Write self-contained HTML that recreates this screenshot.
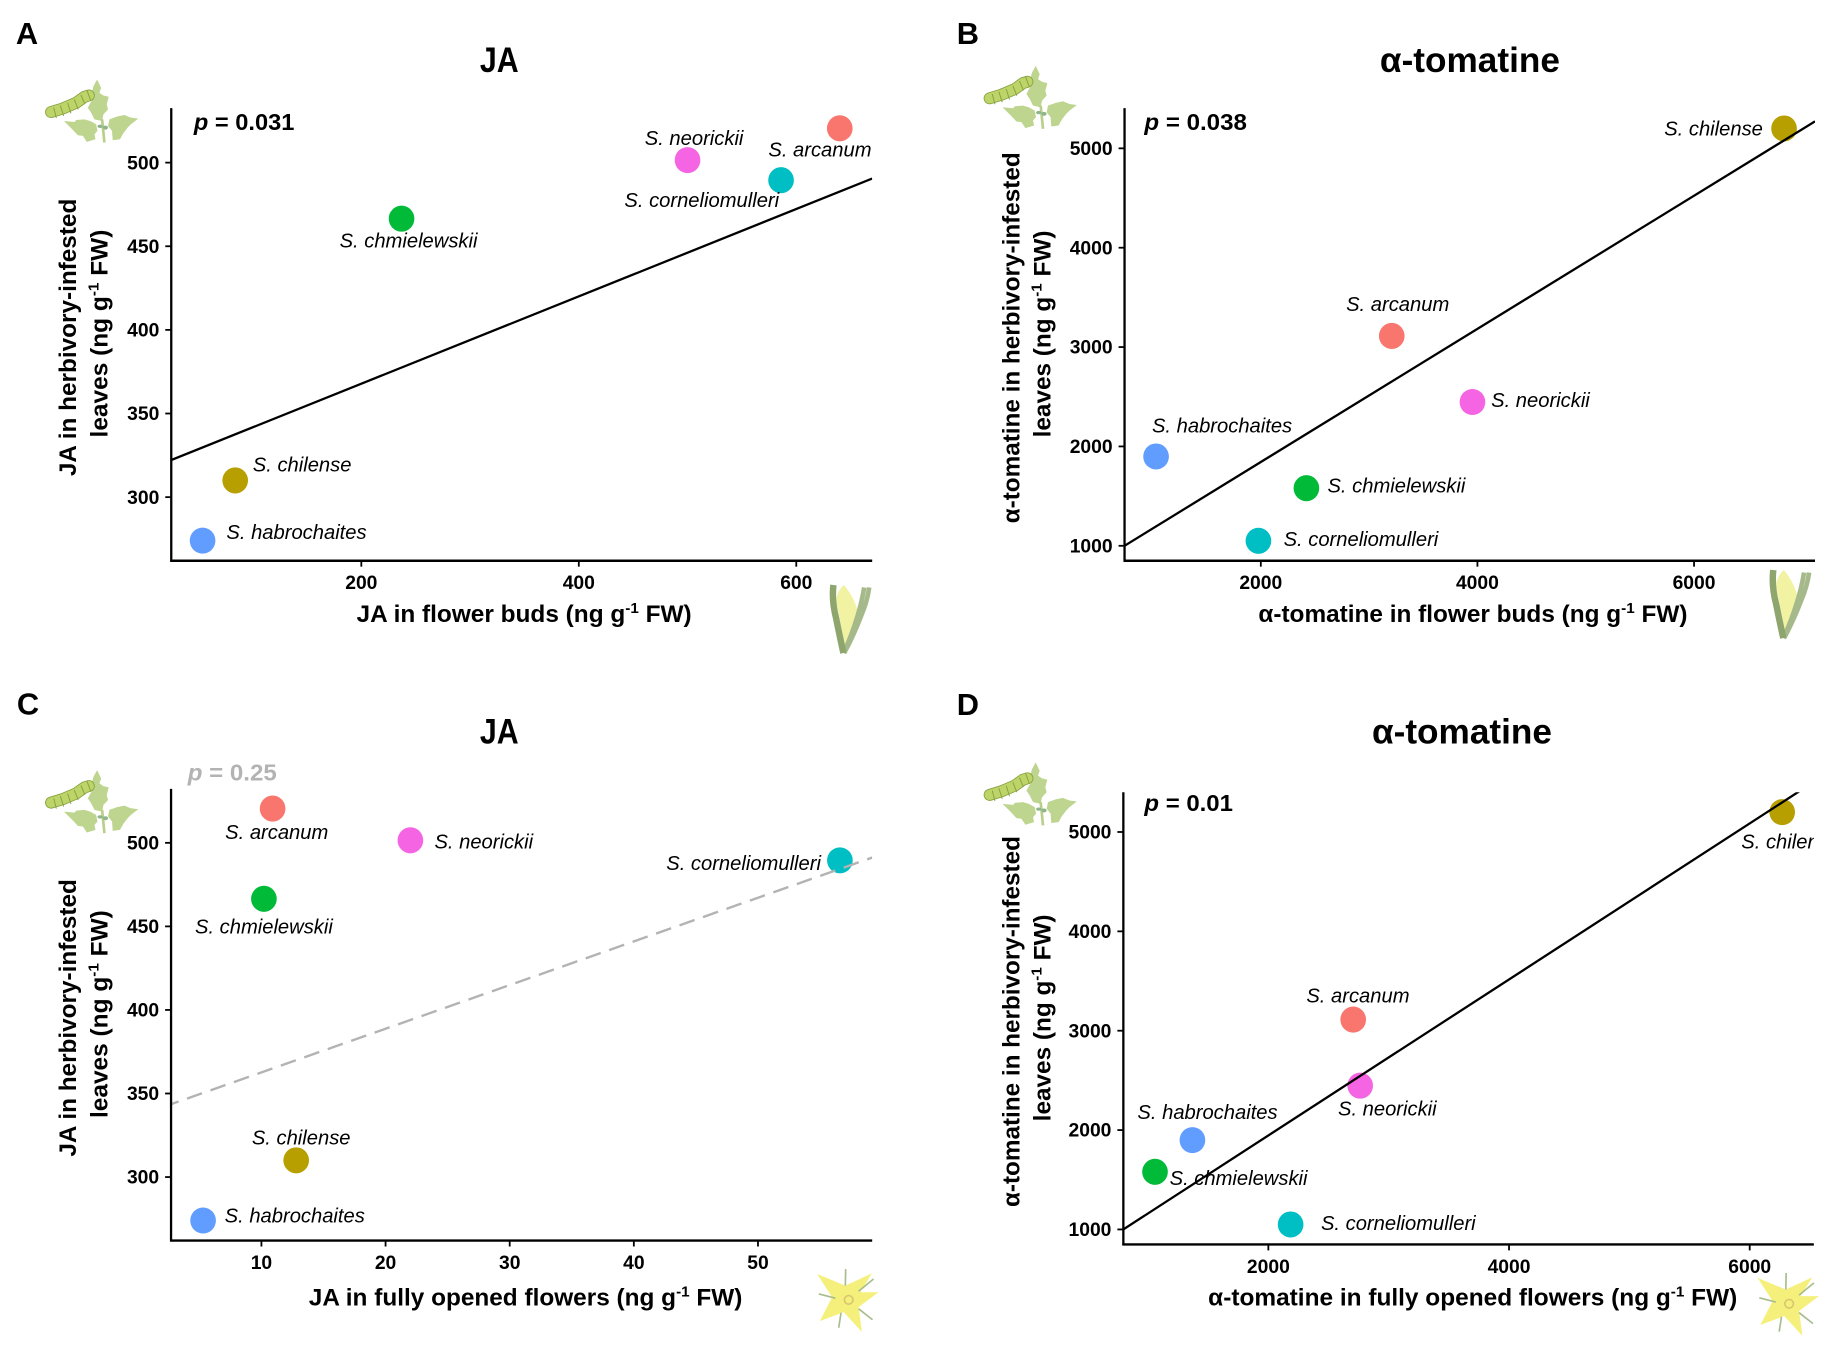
<!DOCTYPE html>
<html lang="en">
<head>
<meta charset="utf-8">
<title>JA and α-tomatine correlations</title>
<style>
html,body{margin:0;padding:0;background:#fff;}
svg{display:block;}
text{font-family:"Liberation Sans",sans-serif;fill:#000;}
.letter{font-size:31px;font-weight:700;}
.title{font-size:35px;font-weight:700;text-anchor:middle;}
.xtitle,.ytitle{font-size:24px;font-weight:700;text-anchor:middle;}
.pval{font-size:23px;font-weight:700;}
.pval .pi{font-style:italic;}
.tick{font-size:19.4px;font-weight:700;}
.species{font-size:20.3px;font-style:italic;}
</style>
</head>
<body>
<svg id="figure" xmlns="http://www.w3.org/2000/svg" width="1833" height="1346" viewBox="0 0 1833 1346">
<defs>
  <g id="leaf-icon">
    <g fill="#bdd58e">
      <path d="M203 60L215 85 210 100 222 108 238 112 232 135 236 150 222 165 218 185 195 180 185 160 175 145 184 128 195 115 188 95 192 80Z"/>
      <path d="M103 185L135 188 140 182 165 180 182 185 200 195 204 215 195 225 198 240 172 248 160 230 145 228 130 212 118 200Z"/>
      <path d="M327 178L305 175 285 167 262 172 240 180 236 200 248 215 250 243 272 240 282 222 295 205 305 195Z"/>
    </g>
    <path d="M218 180L225 250" stroke="#b9cf8a" stroke-width="8" fill="none"/>
    <ellipse cx="212" cy="201" rx="8" ry="5" fill="#8fb58a"/>
    <ellipse cx="228" cy="205" rx="8" ry="6" fill="#8fb58a"/>
    <path d="M64 158L100 147 140 130 165 112 178 108" stroke="#86a03e" stroke-width="36" stroke-linecap="round" fill="none"/>
    <path d="M64 158L100 147 140 130 165 112 178 108" stroke="#bdd468" stroke-width="31" stroke-linecap="round" fill="none"/>
    <path d="M72 145L80 176M92 138L102 170M114 130L124 162M134 120L146 150M154 106L166 134M172 92L184 124" stroke="#8aa245" stroke-width="3" fill="none"/>
  </g>
  <g id="bud-icon">
    <path d="M130 45Q165 90 168 125L132 215 108 90Q110 60 130 45Z" fill="#f1f3a2"/>
    <path d="M186 52Q180 90 168 130Q150 190 128 235" stroke="#a5b98a" stroke-width="13" fill="none"/>
    <path d="M200 52Q195 90 178 130Q155 190 130 235" stroke="#a5b98a" stroke-width="13" fill="none"/>
    <path d="M100 45Q95 90 108 140Q118 190 128 235" stroke="#8fa56e" stroke-width="18" fill="none"/>
  </g>
  <g id="flower-icon">
    <path d="M80 70L165 105 245 68 210 125 265 125 205 170 215 245 160 185 88 212 125 140Z" fill="#f5f07c"/>
    <path d="M166 55L165 105M250 85L205 122M85 130L135 143M152 187L145 232M205 175L247 208" stroke="#a8bd8c" stroke-width="5" fill="none"/>
    <circle cx="175" cy="148" r="13" fill="none" stroke="#d9c76f" stroke-width="5"/>
  </g>
</defs>

<g transform="scale(.9945)">
  <text class="letter" x="16" y="44">A</text>
  <text class="title" x="502" y="72.5" textLength="39" lengthAdjust="spacingAndGlyphs">JA</text>
  <text class="pval" x="195" y="130.7" textLength="101" lengthAdjust="spacingAndGlyphs"><tspan class="pi">p</tspan> = 0.031</text>
  <text class="xtitle" x="527" y="625.5" textLength="337" lengthAdjust="spacingAndGlyphs">JA in flower buds (ng g<tspan font-size="15" dy="-9">-1</tspan><tspan dy="9"> FW)</tspan></text>
  <g>
    <text class="ytitle" transform="translate(76.4 339.3) rotate(-90)" textLength="279" lengthAdjust="spacingAndGlyphs">JA in herbivory-infested</text>
    <text class="ytitle" transform="translate(107.9 335.4) rotate(-90)" textLength="209" lengthAdjust="spacingAndGlyphs">leaves (ng g<tspan font-size="15" dy="-9">-1</tspan><tspan dy="9"> FW)</tspan></text>
  </g>
</g>

<g transform="translate(5.04 0) scale(.9945)">
  <text class="letter" x="957" y="44">B</text>
  <text class="title" x="1473" y="72.5" textLength="181" lengthAdjust="spacingAndGlyphs">α-tomatine</text>
  <text class="pval" x="1145.7" y="130.7" textLength="103" lengthAdjust="spacingAndGlyphs"><tspan class="pi">p</tspan> = 0.038</text>
  <text class="xtitle" x="1476" y="625.5" textLength="431.5" lengthAdjust="spacingAndGlyphs">α-tomatine in flower buds (ng g<tspan font-size="15" dy="-9">-1</tspan><tspan dy="9"> FW)</tspan></text>
  <g>
    <text class="ytitle" transform="translate(1020 339.7) rotate(-90)" textLength="373" lengthAdjust="spacingAndGlyphs">α-tomatine in herbivory-infested</text>
    <text class="ytitle" transform="translate(1051.3 335.8) rotate(-90)" textLength="208" lengthAdjust="spacingAndGlyphs">leaves (ng g<tspan font-size="15" dy="-9">-1</tspan><tspan dy="9"> FW)</tspan></text>
  </g>
</g>

<g transform="translate(0 3.7) scale(.9945)">
  <text class="letter" x="17" y="714.8">C</text>
  <text class="title" x="502" y="743.7" textLength="39" lengthAdjust="spacingAndGlyphs">JA</text>
  <text class="pval" x="188.8" y="780.9" textLength="89.5" lengthAdjust="spacingAndGlyphs" style="fill:#b3b3b3"><tspan class="pi" style="fill:#b3b3b3">p</tspan> = 0.25</text>
  <text class="xtitle" x="528.5" y="1309" textLength="436" lengthAdjust="spacingAndGlyphs">JA in fully opened flowers (ng g<tspan font-size="15" dy="-9">-1</tspan><tspan dy="9"> FW)</tspan></text>
  <g>
    <text class="ytitle" transform="translate(76.4 1019.8) rotate(-90)" textLength="279" lengthAdjust="spacingAndGlyphs">JA in herbivory-infested</text>
    <text class="ytitle" transform="translate(107.9 1016) rotate(-90)" textLength="209" lengthAdjust="spacingAndGlyphs">leaves (ng g<tspan font-size="15" dy="-9">-1</tspan><tspan dy="9"> FW)</tspan></text>
  </g>
</g>

<g transform="translate(5.04 3.7) scale(.9945)">
  <text class="letter" x="957" y="715">D</text>
  <text class="title" x="1465" y="743.7" textLength="181" lengthAdjust="spacingAndGlyphs">α-tomatine</text>
  <text class="pval" x="1145.7" y="812" textLength="89" lengthAdjust="spacingAndGlyphs"><tspan class="pi">p</tspan> = 0.01</text>
  <text class="xtitle" x="1475.8" y="1309" textLength="532" lengthAdjust="spacingAndGlyphs">α-tomatine in fully opened flowers (ng g<tspan font-size="15" dy="-9">-1</tspan><tspan dy="9"> FW)</tspan></text>
  <g>
    <text class="ytitle" transform="translate(1020 1023.5) rotate(-90)" textLength="373" lengthAdjust="spacingAndGlyphs">α-tomatine in herbivory-infested</text>
    <text class="ytitle" transform="translate(1051.3 1019.8) rotate(-90)" textLength="208" lengthAdjust="spacingAndGlyphs">leaves (ng g<tspan font-size="15" dy="-9">-1</tspan><tspan dy="9"> FW)</tspan></text>
  </g>
</g>

<g>
  <use href="#leaf-icon" transform="scale(.9945) translate(30 60) scale(.3333)"/>
  <use href="#leaf-icon" transform="translate(5.04 0) scale(.9945) translate(968.7 46.2) scale(.3333)"/>
  <use href="#leaf-icon" transform="translate(0 3.7) scale(.9945) translate(30 750.7) scale(.3333)"/>
  <use href="#leaf-icon" transform="translate(5.04 3.7) scale(.9945) translate(968.7 742.9) scale(.3333)"/>
  <use href="#bud-icon" transform="scale(.9945) translate(802 572) scale(.36)"/>
  <use href="#bud-icon" transform="translate(5.04 0) scale(.9945) translate(1742 557) scale(.36)"/>
  <use href="#flower-icon" transform="translate(5 7.7) scale(.9945) translate(790 1250) scale(.3333)"/>
  <use href="#flower-icon" transform="translate(10.04 8.2) scale(.9945) translate(1730.6 1253.4) scale(.3333)"/>
</g>

<g id="charts"></g>
</svg>

<script>
// Chart data
const species = ['S. arcanum', 'S. neorickii', 'S. corneliomulleri', 'S. chmielewskii', 'S. chilense', 'S. habrochaites'];
const speciesColors = ['#F8766D', '#F564E3', '#00BFC4', '#00BA38', '#B79F00', '#619CFF'];

const jaLeaves = [520.5, 501.5, 489.5, 466.5, 310, 274];
const alphaLeaves = [3112, 2447, 1050, 1580, 5200, 1899];
const jaBuds = [640, 500, 586, 237, 84, 54];
const alphaBuds = [3209, 3954, 1978, 2421, 6831, 1033];
const jaFlowers = [10.9, 22, 56.6, 10.2, 12.8, 5.3];
const alphaFlowers = [2705, 2763, 2185, 1058, 6270, 1369];

const jaLeafTicks = [300, 350, 400, 450, 500];
const alphaLeafTicks = [1000, 2000, 3000, 4000, 5000];
const jaBudTicks = [200, 400, 600];
const alphaBudTicks = [2000, 4000, 6000];
const jaFlowerTicks = [10, 20, 30, 40, 50];
const alphaFlowerTicks = [2000, 4000, 6000];

const xDomainA = [25.2, 669.8];
const yDomainA = [262, 532.6];
const xDomainB = [742, 7117];
const yDomainB = [850, 5405];
const xDomainC = [2.72, 59.2];
const yDomainC = [262, 532.3];
const xDomainD = [795, 6533];
const yDomainD = [849, 5400];

const fitA = [315.6, 0.2611];
const fitB = [503, 0.67];
const fitC = [336.5, 2.613];
const fitD = [376, 0.785];

// Layout (pixels), separate from the data
const panels = [
  {id: 'a', shift: 'scale(.9945)', box: [172.2, 877, 108.7, 563.8], x: jaBuds, y: jaLeaves, xDomain: xDomainA, yDomain: yDomainA, xTicks: jaBudTicks, yTicks: jaLeafTicks, fit: fitA, dashed: false,
   offsets: [[-71.8, 28.5], [-43, -15], [-157.5, 27.2], [-62.3, 29], [17.7, -9], [24, -1.7]]},
  {id: 'b', shift: 'translate(5.04 0) scale(.9945)', box: [1125.7, 1820, 108.7, 563.8], x: alphaBuds, y: alphaLeaves, xDomain: xDomainB, yDomain: yDomainB, xTicks: alphaBudTicks, yTicks: alphaLeafTicks, fit: fitB, dashed: false,
   offsets: [[-45.9, -25], [18.8, 5.2], [25.3, 5.2], [21.2, 4.4], [-120.5, 7.3], [-4.1, -24]]},
  {id: 'c', shift: 'translate(0 3.7) scale(.9945)', box: [172, 877, 789.5, 1243.7], x: jaFlowers, y: jaLeaves, xDomain: xDomainC, yDomain: yDomainC, xTicks: jaFlowerTicks, yTicks: jaLeafTicks, fit: fitC, dashed: true,
   offsets: [[-47.7, 30.6], [24.2, 8.2], [-174.6, 9.5], [-69.3, 35], [-44.6, -16], [21.7, 2.2]]},
  {id: 'd', shift: 'translate(5.04 3.7) scale(.9945)', box: [1124.5, 1818.8, 792.9, 1247.6], x: alphaFlowers, y: alphaLeaves, xDomain: xDomainD, yDomain: yDomainD, xTicks: alphaFlowerTicks, yTicks: alphaLeafTicks, fit: fitD, dashed: false,
   offsets: [[-47.1, -17.2], [-22.3, 30.2], [30.5, 5.6], [14.7, 13.4], [-41.1, 36.7], [-55.3, -21.1]]}
];

const SVG_NS = 'http://www.w3.org/2000/svg';
function make(tag, attrs, parent) {
  const node = document.createElementNS(SVG_NS, tag);
  for (const key in attrs) node.setAttribute(key, attrs[key]);
  parent.appendChild(node);
  return node;
}
function linear(domain, range) {
  return function (v) {
    return range[0] + (v - domain[0]) / (domain[1] - domain[0]) * (range[1] - range[0]);
  };
}

const root = document.getElementById('charts');
const defs = document.querySelector('svg defs');

panels.forEach(function (p) {
  const left = p.box[0], right = p.box[1], top = p.box[2], bottom = p.box[3];
  const xScale = linear(p.xDomain, [left, right]);
  const yScale = linear(p.yDomain, [bottom, top]);

  const panel = make('g', {transform: p.shift}, root);
  
  

  const lineClip = make('clipPath', {id: 'line-clip-' + p.id}, defs);
  make('rect', {x: left, y: top, width: right - left, height: bottom - top}, lineClip);
  const labelClip = make('clipPath', {id: 'label-clip-' + p.id}, defs);
  make('rect', {x: left, y: top - 25, width: right - left, height: bottom - top + 25}, labelClip);

  // points
  const pointGroup = make('g', {}, panel);
  
  
  species.forEach(function (name, i) {
    const point = make('ellipse', {cx: xScale(p.x[i]), cy: yScale(p.y[i]), rx: 12.9, ry: 13.1, fill: speciesColors[i]}, pointGroup);
    
    
  });

  // fit line
  const fitLine = make('line', {
    x1: xScale(p.xDomain[0]), y1: yScale(p.fit[0] + p.fit[1] * p.xDomain[0]),
    x2: xScale(p.xDomain[1]), y2: yScale(p.fit[0] + p.fit[1] * p.xDomain[1]),
    stroke: p.dashed ? '#b3b3b3' : '#000',
    'stroke-width': p.dashed ? 2.4 : 2.3,
    'stroke-dasharray': p.dashed ? '16 9' : 'none',
    'stroke-dashoffset': p.dashed ? 8 : 0,
    'clip-path': 'url(#line-clip-' + p.id + ')'
  }, panel);
  
  

  // species labels
  const labelGroup = make('g', {'clip-path': 'url(#label-clip-' + p.id + ')'}, panel);
  
  
  species.forEach(function (name, i) {
    const label = make('text', {class: 'species', x: xScale(p.x[i]) + p.offsets[i][0], y: yScale(p.y[i]) + p.offsets[i][1]}, labelGroup);
    label.textContent = name;
    
    
  });

  // axes
  const xAxis = make('g', {}, panel);
  
  
  const xLine = make('line', {x1: left - 1, x2: right, y1: bottom, y2: bottom, stroke: '#000', 'stroke-width': 2.5}, xAxis);
  
  
  p.xTicks.forEach(function (v) {
    const mark = make('line', {x1: xScale(v), x2: xScale(v), y1: bottom, y2: bottom + 6, stroke: '#000', 'stroke-width': 1.8}, xAxis);
    
    
    const text = make('text', {class: 'tick', x: xScale(v), y: bottom + 28.5, 'text-anchor': 'middle'}, xAxis);
    text.textContent = v;
    
    
  });

  const yAxis = make('g', {}, panel);
  
  
  const yLine = make('line', {x1: left, x2: left, y1: top, y2: bottom + 1, stroke: '#000', 'stroke-width': 2.3}, yAxis);
  
  
  p.yTicks.forEach(function (v) {
    const mark = make('line', {x1: left - 6, x2: left, y1: yScale(v), y2: yScale(v), stroke: '#000', 'stroke-width': 1.8}, yAxis);
    
    
    const text = make('text', {class: 'tick', x: left - 12, y: yScale(v) + 6.7, 'text-anchor': 'end'}, yAxis);
    text.textContent = v;
    
    
  });
});
</script>
</body>
</html>
